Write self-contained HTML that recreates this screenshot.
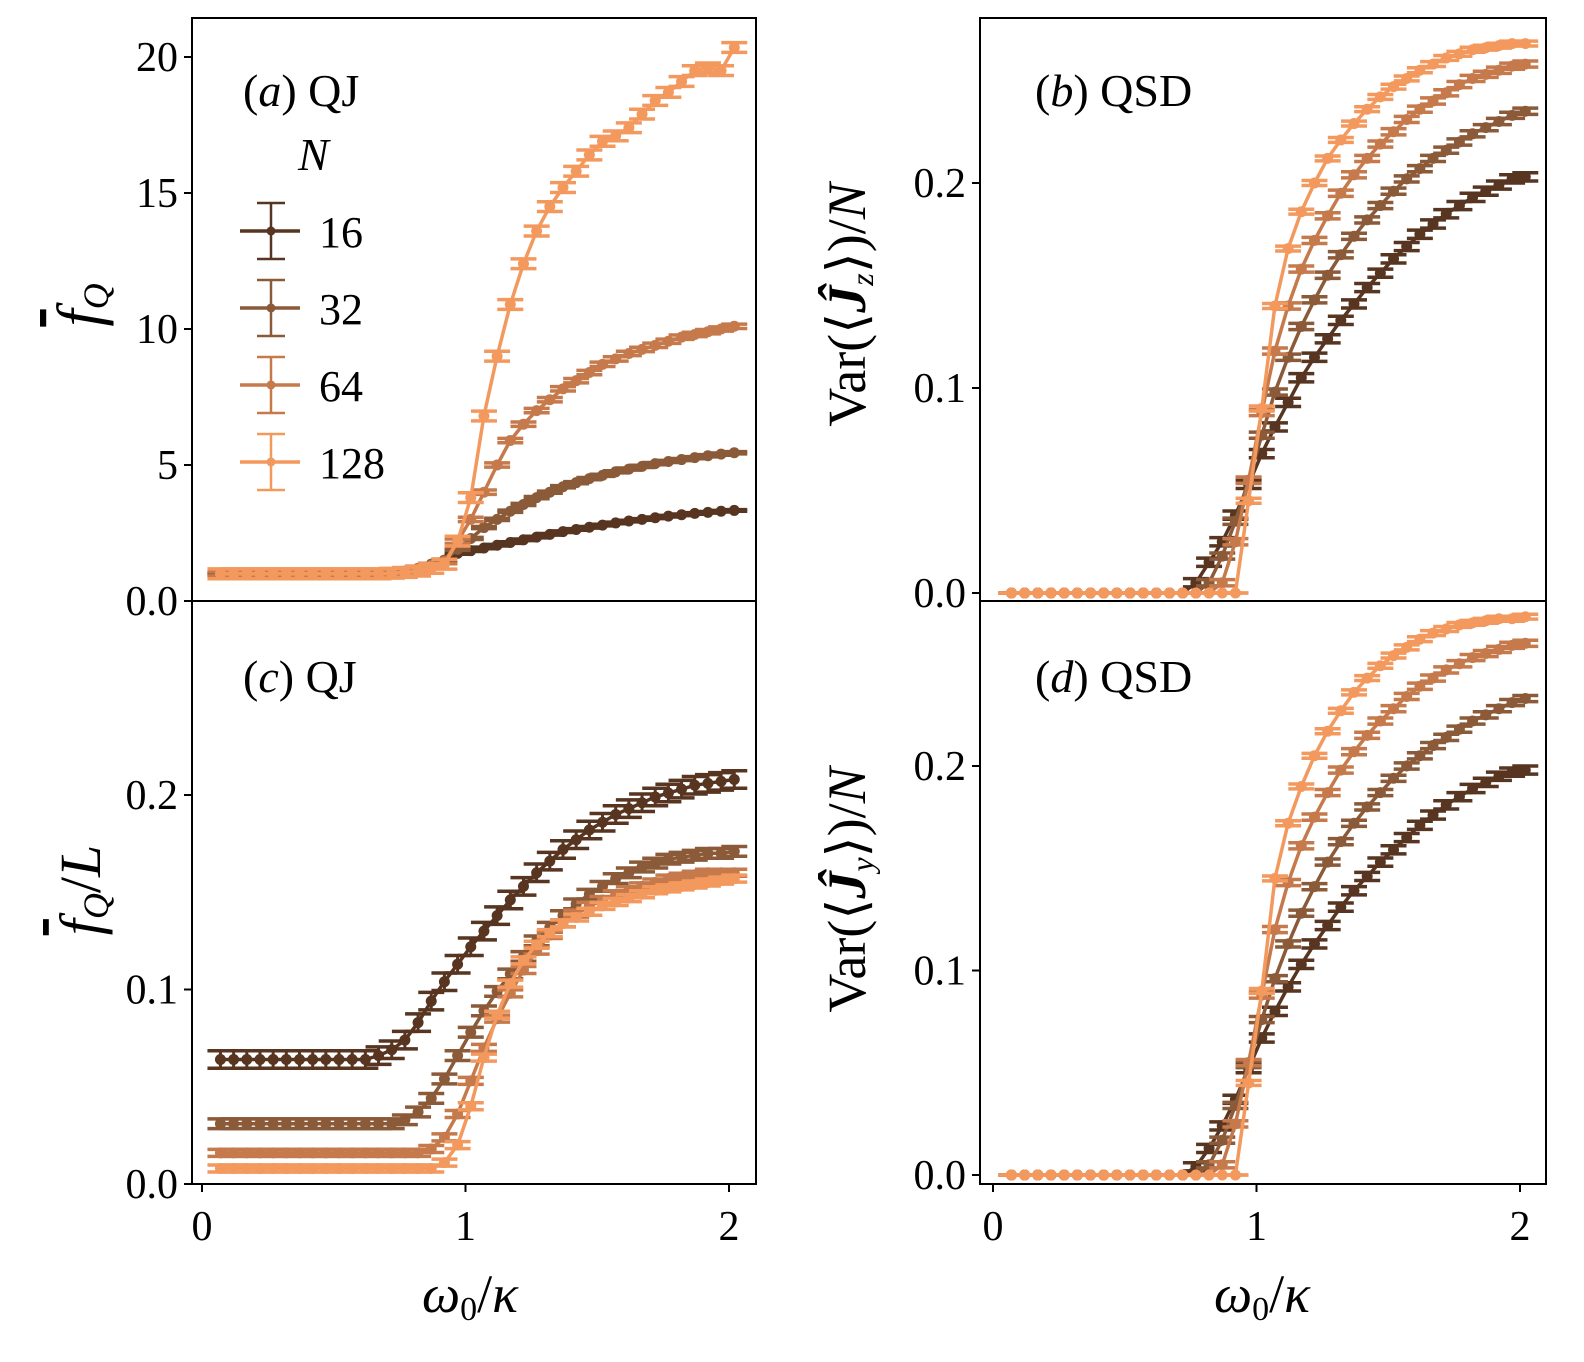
<!DOCTYPE html>
<html><head><meta charset="utf-8"><style>
html,body{margin:0;padding:0;background:#fff}
svg{display:block}
text{font-family:"Liberation Serif",serif;fill:#000}
</style></head><body>
<svg id="chart" width="1584" height="1362" viewBox="0 0 1584 1362" xmlns="http://www.w3.org/2000/svg"></svg>
<script>
const xs=[0.07,0.12,0.17,0.22,0.27,0.32,0.37,0.42,0.47,0.52,0.57,0.62,0.67,0.72,0.77,0.82,0.87,0.92,0.97,1.02,1.07,1.12,1.17,1.22,1.27,1.32,1.37,1.42,1.47,1.52,1.57,1.62,1.67,1.72,1.77,1.82,1.87,1.92,1.97,2.02];
const Ns=["16","32","64","128"];
const colors=["#573520","#8b5a38","#c67a4c","#f4995e"];
const a16=[1,1,1,1,1,1,1,1,1,1,1,1,1.02,1.05,1.1,1.2,1.35,1.5,1.75,1.85,1.95,2.05,2.15,2.25,2.35,2.45,2.55,2.63,2.71,2.79,2.87,2.94,3.0,3.06,3.12,3.17,3.22,3.26,3.3,3.33];
const a32=[1,1,1,1,1,1,1,1,1,1,1,1,1.02,1.05,1.1,1.2,1.35,1.5,1.9,2.3,2.7,3.0,3.3,3.55,3.8,4.0,4.2,4.35,4.5,4.62,4.75,4.85,4.95,5.05,5.13,5.2,5.27,5.34,5.4,5.45];
const a64=[1,1,1,1,1,1,1,1,1,1,1,1,1.02,1.05,1.1,1.2,1.3,1.45,2.2,3.0,4.0,5.0,5.9,6.5,7.0,7.4,7.8,8.1,8.4,8.7,8.9,9.1,9.25,9.4,9.55,9.7,9.8,9.9,10.0,10.1];
const a128=[1,1,1,1,1,1,1,1,1,1,1,1,1.0,1.02,1.05,1.1,1.2,1.35,2.2,3.8,6.8,9.0,10.9,12.4,13.6,14.5,15.2,15.8,16.4,16.9,17.1,17.4,17.9,18.4,18.7,19.1,19.5,19.6,19.5,20.35];
const aErr=[0.03,0.04,0.08,0.18];
const b16=[0,0,0,0,0,0,0,0,0,0,0,0,0,0,0.005,0.015,0.025,0.038,0.053,0.068,0.081,0.093,0.105,0.115,0.124,0.133,0.141,0.149,0.156,0.163,0.169,0.175,0.180,0.185,0.189,0.193,0.196,0.199,0.202,0.203];
const b32=[0,0,0,0,0,0,0,0,0,0,0,0,0,0,0,0.005,0.018,0.035,0.055,0.077,0.098,0.115,0.13,0.143,0.155,0.165,0.174,0.182,0.189,0.196,0.202,0.207,0.212,0.216,0.220,0.224,0.227,0.230,0.233,0.235];
const b64=[0,0,0,0,0,0,0,0,0,0,0,0,0,0,0,0,0.005,0.025,0.055,0.088,0.118,0.14,0.158,0.172,0.184,0.195,0.204,0.212,0.219,0.225,0.231,0.236,0.240,0.244,0.248,0.251,0.253,0.255,0.257,0.258];
const b128=[0,0,0,0,0,0,0,0,0,0,0,0,0,0,0,0,0,0,0.045,0.09,0.14,0.168,0.186,0.2,0.212,0.221,0.229,0.236,0.242,0.247,0.251,0.255,0.258,0.261,0.263,0.265,0.266,0.267,0.268,0.268];
const bErr=[0.002,0.0015,0.0015,0.0012];
const c16=[0.064,0.064,0.064,0.064,0.064,0.064,0.064,0.064,0.064,0.064,0.064,0.064,0.066,0.069,0.074,0.083,0.094,0.104,0.113,0.122,0.13,0.138,0.146,0.153,0.16,0.166,0.172,0.177,0.182,0.186,0.19,0.193,0.196,0.199,0.201,0.203,0.205,0.206,0.207,0.208];
const c32=[0.031,0.031,0.031,0.031,0.031,0.031,0.031,0.031,0.031,0.031,0.031,0.031,0.031,0.031,0.033,0.037,0.044,0.054,0.066,0.078,0.089,0.099,0.108,0.117,0.125,0.132,0.138,0.144,0.149,0.153,0.157,0.16,0.163,0.165,0.167,0.168,0.169,0.17,0.17,0.171];
const c64=[0.016,0.016,0.016,0.016,0.016,0.016,0.016,0.016,0.016,0.016,0.016,0.016,0.016,0.016,0.016,0.016,0.018,0.024,0.036,0.053,0.07,0.085,0.098,0.11,0.12,0.128,0.134,0.139,0.143,0.146,0.149,0.151,0.153,0.155,0.157,0.158,0.159,0.16,0.16,0.16];
const c128=[0.008,0.008,0.008,0.008,0.008,0.008,0.008,0.008,0.008,0.008,0.008,0.008,0.008,0.008,0.008,0.008,0.008,0.011,0.02,0.04,0.065,0.087,0.103,0.115,0.123,0.129,0.134,0.137,0.14,0.143,0.145,0.147,0.149,0.151,0.152,0.153,0.154,0.155,0.156,0.157];
const cErr=[0.0045,0.0025,0.0018,0.0018];
const d16=[0,0,0,0,0,0,0,0,0,0,0,0,0,0,0.004,0.013,0.024,0.037,0.052,0.067,0.08,0.092,0.103,0.113,0.122,0.131,0.139,0.146,0.153,0.159,0.165,0.171,0.176,0.181,0.185,0.189,0.192,0.195,0.197,0.198];
const d32=[0,0,0,0,0,0,0,0,0,0,0,0,0,0,0,0.005,0.017,0.034,0.054,0.076,0.096,0.113,0.128,0.141,0.153,0.163,0.172,0.18,0.187,0.194,0.2,0.205,0.21,0.214,0.218,0.222,0.225,0.228,0.231,0.233];
const d64=[0,0,0,0,0,0,0,0,0,0,0,0,0,0,0,0,0.005,0.025,0.055,0.088,0.12,0.143,0.161,0.175,0.187,0.198,0.207,0.215,0.222,0.228,0.234,0.239,0.243,0.247,0.25,0.253,0.255,0.257,0.259,0.26];
const d128=[0,0,0,0,0,0,0,0,0,0,0,0,0,0,0,0,0,0,0.045,0.09,0.145,0.172,0.19,0.205,0.217,0.227,0.236,0.243,0.249,0.254,0.258,0.262,0.265,0.267,0.269,0.27,0.271,0.272,0.272,0.273];
const dErr=[0.002,0.0015,0.0015,0.0012];
const xTicks=[0,1,2];
const aTicks=[0,5,10,15,20], aTickLabels=["0.0","5","10","15","20"];
const bTicks=[0,0.1,0.2], bTickLabels=["0.0","0.1","0.2"];
const cTicks=[0,0.1,0.2], cTickLabels=["0.0","0.1","0.2"];
const dTicks=[0,0.1,0.2], dTickLabels=["0.0","0.1","0.2"];

const NS="http://www.w3.org/2000/svg";
const svg=document.getElementById('chart');
function el(tag,attrs,parent){const e=document.createElementNS(NS,tag);for(const k in attrs)e.setAttribute(k,attrs[k]);(parent||svg).appendChild(e);return e;}

const panels=[
 {id:'a',x0:192,y0:18,w:564,h:583,xz:202,xs:263.5,yz:601,ys:27.2,series:[a16,a32,a64,a128],err:aErr,ticks:aTicks,tl:aTickLabels,label:'QJ',lx:243,ly:106,showX:false},
 {id:'b',x0:980,y0:18,w:566,h:583,xz:993,xs:263.5,yz:593,ys:2050,series:[b16,b32,b64,b128],err:bErr,ticks:bTicks,tl:bTickLabels,label:'QSD',lx:1035,ly:106,showX:false},
 {id:'c',x0:192,y0:601,w:564,h:583,xz:202,xs:263.5,yz:1184,ys:1945,series:[c16,c32,c64,c128],err:cErr,ticks:cTicks,tl:cTickLabels,label:'QJ',lx:243,ly:692,showX:true},
 {id:'d',x0:980,y0:601,w:566,h:583,xz:993,xs:263.5,yz:1175,ys:2045,series:[d16,d32,d64,d128],err:dErr,ticks:dTicks,tl:dTickLabels,label:'QSD',lx:1035,ly:692,showX:true}
];

panels.forEach(p=>{
 const g=el('g',{});
 
 
 const X=v=>p.xz+v*p.xs, Y=v=>p.yz-v*p.ys;
 p.series.forEach((ser,si)=>{
  const sg=el('g',{},g);
  
  
  const col=colors[si], e=p.err[si];
  let d='';
  ser.forEach((v,i)=>{d+=(i?'L':'M')+X(xs[i]).toFixed(1)+','+Y(v).toFixed(1);});
  const ln=el('path',{d:d,fill:'none',stroke:col,'stroke-width':3.5},sg);
  
  
  ser.forEach((v,i)=>{
   const cx=X(xs[i]);
   const err=(v===0&&(p.id==='b'||p.id==='d'))?0:e;
   el('line',{x1:cx,x2:cx,y1:Y(v+err),y2:Y(v-err),stroke:col,'stroke-width':3},sg);
   [v+err,v-err].forEach(yv=>el('line',{x1:cx-13,x2:cx+13,y1:Y(yv),y2:Y(yv),stroke:col,'stroke-width':3.5},sg));
   const pt=el('circle',{cx:cx,cy:Y(v),r:5.5,fill:col},sg);
   
   
  });
 });
 const fr=el('rect',{x:p.x0,y:p.y0,width:p.w,height:p.h,fill:'none',stroke:'#000','stroke-width':2},g);
 
 
 p.ticks.forEach((t,i)=>{
  el('line',{x1:p.x0-8,x2:p.x0,y1:Y(t),y2:Y(t),stroke:'#000','stroke-width':2},g);
  const tx=el('text',{x:p.x0-14,y:Y(t)+14,'font-size':42,'text-anchor':'end'},g);
  tx.textContent=p.tl[i];
  
  
 });
 if(p.showX){
  xTicks.forEach(t=>{
   el('line',{x1:X(t),x2:X(t),y1:p.y0+p.h,y2:p.y0+p.h+8,stroke:'#000','stroke-width':2},g);
   const tx=el('text',{x:X(t),y:p.y0+p.h+56,'font-size':42,'text-anchor':'middle'},g);
   tx.textContent=String(t);
   
   
  });
 }
 const pl=el('text',{x:p.lx,y:p.ly,'font-size':46},g);
 pl.innerHTML='(<tspan font-style="italic">'+p.id+'</tspan>) '+p.label;
 
 
});

const lg=el('g',{});


const lt=el('text',{x:298,y:170,'font-size':46,'font-style':'italic'},lg);
lt.textContent='N';


Ns.forEach((n,i)=>{
 const y=231+i*77, col=colors[i];
 const eg=el('g',{},lg);
 
 
 el('line',{x1:240,x2:300,y1:y,y2:y,stroke:col,'stroke-width':3.5},eg);
 el('line',{x1:271,x2:271,y1:y-28,y2:y+28,stroke:col,'stroke-width':2.5},eg);
 el('line',{x1:257,x2:285,y1:y-28,y2:y-28,stroke:col,'stroke-width':2.5},eg);
 el('line',{x1:257,x2:285,y1:y+28,y2:y+28,stroke:col,'stroke-width':2.5},eg);
 el('circle',{cx:271,cy:y,r:4.5,fill:col},eg);
 const t=el('text',{x:319,y:y+16,'font-size':44},eg);
 t.textContent=n;
});

function title(html,x,y,rot,name,fs){
 const t=el('text',{x:x,y:y,'font-size':fs||52,'text-anchor':'middle',transform:rot?'rotate(-90 '+x+' '+y+')':''});
 t.innerHTML=html;
 
 
}
title('<tspan font-style="italic" text-decoration="overline">f</tspan><tspan font-style="italic" font-size="36" dy="8">Q</tspan>',100,305,true,'y-axis-title-a',62);
title('<tspan font-style="italic" text-decoration="overline">f</tspan><tspan font-style="italic" font-size="36" dy="8">Q</tspan><tspan dy="-8">/</tspan><tspan font-style="italic">L</tspan>',100,890,true,'y-axis-title-c',58);
title('Var(⟨<tspan font-style="italic" font-weight="bold">Ĵ</tspan><tspan font-style="italic" font-size="32" dy="8">z</tspan><tspan dy="-8">⟩)/</tspan><tspan font-style="italic">N</tspan>',865,305,true,'y-axis-title-b',54);
title('Var(⟨<tspan font-style="italic" font-weight="bold">Ĵ</tspan><tspan font-style="italic" font-size="32" dy="8">y</tspan><tspan dy="-8">⟩)/</tspan><tspan font-style="italic">N</tspan>',865,890,true,'y-axis-title-d',54);
title('<tspan font-style="italic">ω</tspan><tspan font-size="34" dy="8">0</tspan><tspan dy="-8">/</tspan><tspan font-style="italic">κ</tspan>',470,1312,false,'x-axis-title-left',54);
title('<tspan font-style="italic">ω</tspan><tspan font-size="34" dy="8">0</tspan><tspan dy="-8">/</tspan><tspan font-style="italic">κ</tspan>',1262,1312,false,'x-axis-title-right',54);
</script>
</body></html>
